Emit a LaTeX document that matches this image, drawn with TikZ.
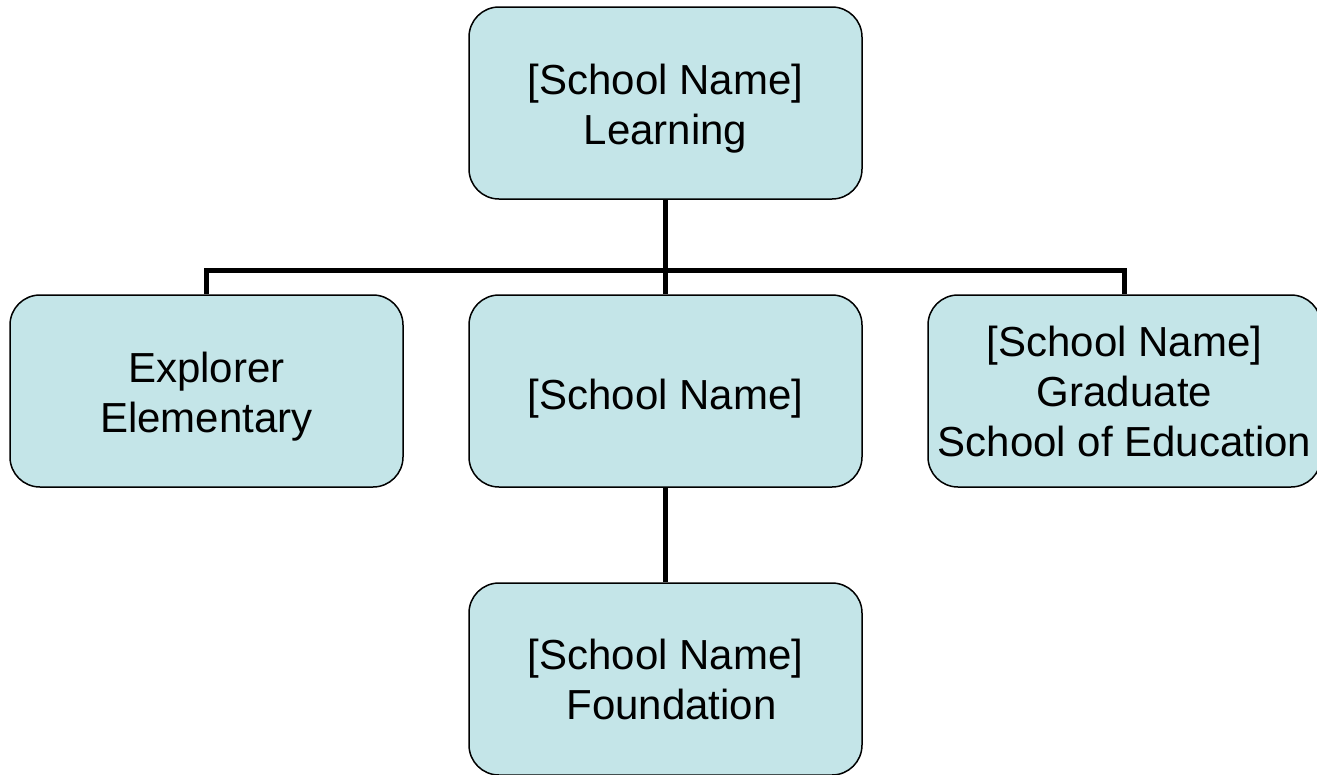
\documentclass[tikz,border=0pt]{standalone}
\usepackage{fontspec}
\setmainfont{Liberation Sans}
\definecolor{boxfill}{HTML}{C4E5E8}
\newcommand{\toppad}{\rule{0pt}{42pt}}
\begin{document}
\begin{tikzpicture}[x=1pt,y=-1pt,
  orgbox/.style={draw=black, line width=1.5pt, fill=boxfill, rounded corners=30pt,
    minimum width=393pt, minimum height=192pt, inner sep=0pt, align=center,
    font=\fontsize{42}{50}\selectfont},
  link/.style={line width=5pt}]
\useasboundingbox (0,0) rectangle (1317,774);
\node[orgbox] (top) at (665.5,103) {\toppad[School Name]\\Learning};
\node[orgbox] (left) at (206.5,391) {\toppad Explorer\\Elementary};
\node[orgbox] (mid) at (665.5,391) {\rule{0pt}{46pt}[School Name]};
\node[orgbox] (right) at (1124.5,391) {[School Name]\\Graduate\\School of Education};
\node[orgbox] (bot) at (665.5,679) {[School Name]\\\hspace*{12pt}Foundation};
\coordinate (bar) at (665.5,270);
\draw[link] (top.south) -- (mid.north);
\draw[link] (left.north) |- (bar) -| (right.north);
\draw[link] (mid.south) -- (bot.north);
\end{tikzpicture}
\end{document}
